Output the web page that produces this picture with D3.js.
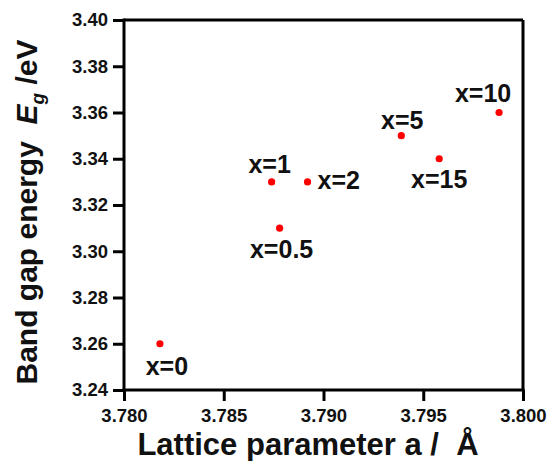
<!DOCTYPE html>
<html>
<head>
<meta charset="utf-8">
<script src="https://cdn.jsdelivr.net/npm/d3@7"></script>
<style>
  body { margin: 0; background: #fff; }
  text { font-family: "Liberation Sans", Arial, sans-serif; fill: #111; white-space: pre; }
</style>
</head>
<body>
<svg id="chart" width="548" height="461"></svg>
<script>
// data
var labels = ["x=0", "x=0.5", "x=1", "x=2", "x=5", "x=15", "x=10"];
var lattice = [3.7818, 3.7878, 3.7874, 3.7892, 3.7939, 3.7958, 3.7988];
var bandGap = [3.26, 3.31, 3.33, 3.33, 3.35, 3.34, 3.36];
var xTicks = [3.780, 3.785, 3.790, 3.795, 3.800];
var yTicks = [3.24, 3.26, 3.28, 3.30, 3.32, 3.34, 3.36, 3.38, 3.40];

// where each label sits relative to its dot
var labelPos = [
  { dx: 7, dy: 31, anchor: "middle" },
  { dx: 2, dy: 30, anchor: "middle" },
  { dx: -2, dy: -9, anchor: "middle" },
  { dx: 10, dy: 7, anchor: "start" },
  { dx: 1, dy: -7, anchor: "middle" },
  { dx: 0, dy: 29, anchor: "middle" },
  { dx: -16, dy: -11, anchor: "middle" }
];

var svg = d3.select("#chart");
var mLeft = 124, mRight = 523, mTop = 20, mBottom = 390;

var x = d3.scaleLinear().domain([3.780, 3.800]).range([mLeft, mRight]);
var y = d3.scaleLinear().domain([3.24, 3.40]).range([mBottom, mTop]);

// frame: top and right lines
svg.append("line")
  .attr("x1", mLeft).attr("x2", mRight)
  .attr("y1", mTop).attr("y2", mTop)
  .attr("stroke", "#000").attr("stroke-width", 3);
svg.append("line")
  .attr("x1", mRight).attr("x2", mRight)
  .attr("y1", mTop).attr("y2", mBottom)
  .attr("stroke", "#000").attr("stroke-width", 3);

// x axis
var gx = svg.append("g")
  .attr("transform", "translate(0," + mBottom + ")")
  .call(d3.axisBottom(x).tickValues(xTicks).tickFormat(d3.format(".3f"))
    .tickSize(11).tickSizeOuter(0).tickPadding(4));

// y axis
var gy = svg.append("g")
  .attr("transform", "translate(" + mLeft + ",0)")
  .call(d3.axisLeft(y).tickValues(yTicks).tickFormat(d3.format(".2f"))
    .tickSize(11).tickSizeOuter(0).tickPadding(5));

[gx, gy].forEach(function (g) {
  g.select(".domain").attr("stroke", "#000").attr("stroke-width", 3);
  g.selectAll(".tick line").attr("stroke", "#000").attr("stroke-width", 3);
  g.selectAll(".tick text")
    .style("font-family", "'Liberation Sans', Arial, sans-serif")
    .style("font-size", "18.5px")
    .style("font-weight", "bold")
    .attr("fill", "#222");
});
gx.selectAll(".tick text").attr("dy", "0.9em");
gx.select(".domain").attr("d", "M" + (mLeft - 1.5) + ",0H" + (mRight + 1.5));
gy.select(".domain").attr("d", "M0," + (mBottom + 1.5) + "V" + (mTop - 1.5));

// points
var pts = lattice.map(function (d, i) {
  return { a: d, e: bandGap[i], label: labels[i], pos: labelPos[i] };
});

svg.append("g")
  .selectAll("circle")
  .data(pts)
  .enter()
  .append("circle")
  .attr("cx", function (d) { return x(d.a); })
  .attr("cy", function (d) { return y(d.e); })
  .attr("r", 3.6)
  .attr("fill", "#ff0000");

svg.append("g")
  .selectAll("text")
  .data(pts)
  .enter()
  .append("text")
  .attr("x", function (d) { return x(d.a) + d.pos.dx; })
  .attr("y", function (d) { return y(d.e) + d.pos.dy; })
  .attr("text-anchor", function (d) { return d.pos.anchor; })
  .style("font-size", "25px")
  .style("font-weight", "bold")
  .text(function (d) { return d.label; });

// axis titles
svg.append("text")
  .attr("x", 308)
  .attr("y", 455)
  .attr("text-anchor", "middle")
  .style("font-size", "31px")
  .style("font-weight", "bold")
  .text("Lattice parameter a /  Å");

var yt = svg.append("text")
  .attr("transform", "translate(37,212) rotate(-90)")
  .attr("text-anchor", "middle")
  .style("font-size", "30px")
  .style("font-weight", "bold");
yt.append("tspan").text("Band gap energy  ");
yt.append("tspan").style("font-style", "italic").text("E");
yt.append("tspan").style("font-style", "italic").style("font-size", "19px")
  .attr("dy", 7).text("g");
yt.append("tspan").attr("dy", -7).text(" /eV");
</script>
</body>
</html>
